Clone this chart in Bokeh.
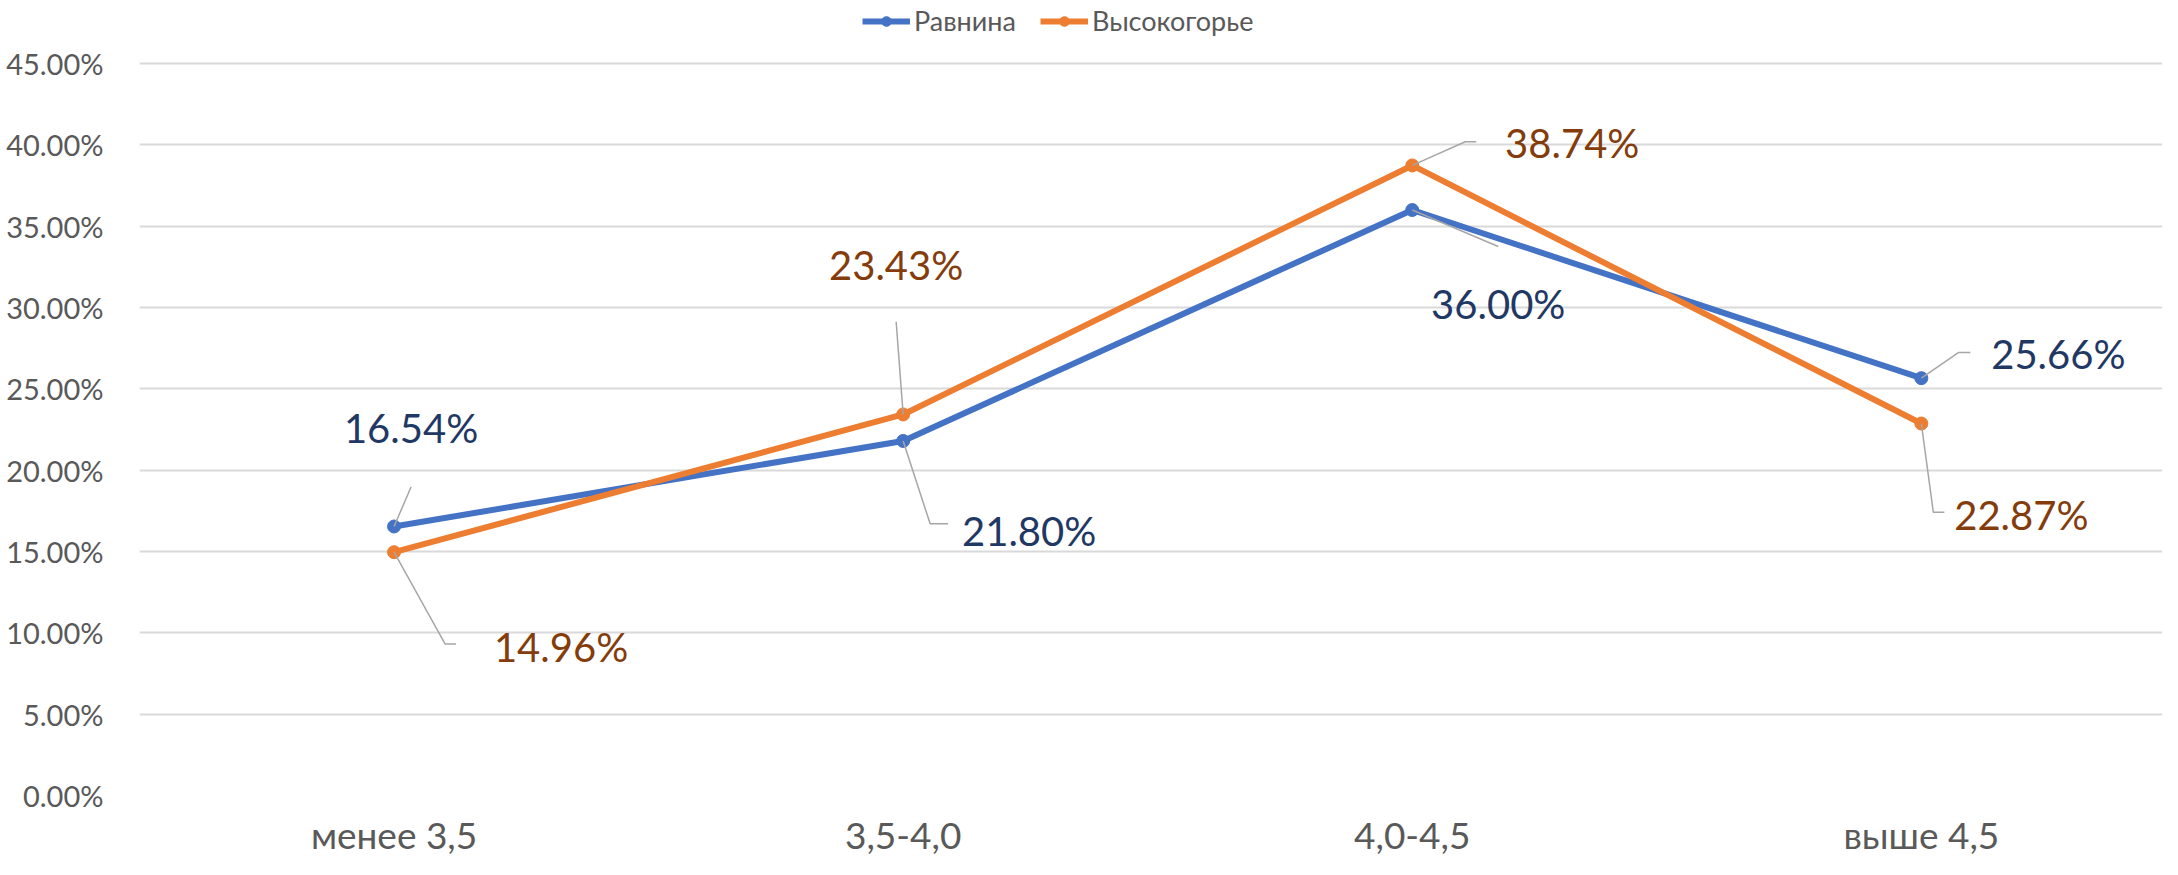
from bokeh.plotting import figure
from bokeh.models import Range1d, NumeralTickFormatter, FixedTicker, Legend, LegendItem, ColumnDataSource
from bokeh.core.properties import value
from bokeh.embed import file_html
from bokeh.resources import INLINE

# ---- data ----
categories = ["менее 3,5", "3,5-4,0", "4,0-4,5", "выше 4,5"]
series_names = ["Равнина", "Высокогорье"]
ravnina = [0.1654, 0.2180, 0.3600, 0.2566]
vysokogorye = [0.1496, 0.2343, 0.3874, 0.2287]
y_ticks = [0.0, 0.05, 0.10, 0.15, 0.20, 0.25, 0.30, 0.35, 0.40, 0.45]

# ---- layout / style ----
W, H = 2162, 859
BL, BR, BT = 139, 0, 0
FRAME_BOTTOM = 806          # px from figure top to the 0% gridline
TOP_GRID = 64               # px from figure top to the 45% gridline
BB = H - FRAME_BOTTOM
CAT_STEP = 509.1            # px between categories
X0 = -0.5
X1 = X0 + (W - BL - BR) / CAT_STEP
PX_X = CAT_STEP
PX_Y = (FRAME_BOTTOM - TOP_GRID) / 0.45
Y0, Y1 = 0.0, 0.45 + TOP_GRID / PX_Y
FONT = "Lato"
BLUE, ORANGE = "#4472C4", "#ED7D31"
BLUE_TXT, ORANGE_TXT = "#1F3864", "#843C0C"
LEADER = "#A6A6A6"

# pixel offsets of data labels (screen coords, y down) and leader lines
label_off = {
    0: [(17, -98), (126, 90), (86, 94), (137, -24)],
    1: [(167, 95), (-7, -149), (160, -22), (100, 91)],
}
leader_off = {
    0: [[(0, 0), (17, -40)], [(0, 0), (27, 84), (45, 84)], [(0, 0), (86, 37)], [(0, 0), (37, -26), (49, -26)]],
    1: [[(0, 0), (51, 93), (62, 93)], [(0, 0), (-7, -94)], [(0, 0), (53, -24), (64, -24)], [(0, 0), (12, 90), (23, 90)]],
}

p = figure(width=W, height=H, output_backend="svg", toolbar_location=None,
           x_range=Range1d(X0, X1), y_range=Range1d(Y0, Y1),
           min_border_left=BL, min_border_right=BR, min_border_top=BT, min_border_bottom=BB)
p.outline_line_color = None
p.background_fill_color = "white"
p.border_fill_color = "white"

xs = list(range(len(categories)))

# axes
p.xaxis.ticker = FixedTicker(ticks=xs)
p.xaxis.major_label_overrides = {i: c for i, c in enumerate(categories)}
p.xaxis.major_label_text_font = FONT
p.xaxis.major_label_text_font_size = "37px"
p.xaxis.major_label_text_color = "#595959"
p.xaxis.major_label_standoff = 10
p.xaxis.axis_line_color = None
p.xaxis.major_tick_line_color = None
p.xaxis.minor_tick_line_color = None
p.xgrid.grid_line_color = None

p.yaxis.ticker = FixedTicker(ticks=y_ticks)
p.yaxis.formatter = NumeralTickFormatter(format="0.00%")
p.yaxis.major_label_text_font = FONT
p.yaxis.major_label_text_font_size = "29px"
p.yaxis.major_label_text_color = "#595959"
p.yaxis.major_label_standoff = 30
p.yaxis.axis_line_color = None
p.yaxis.major_tick_line_color = None
p.yaxis.minor_tick_line_color = None
p.ygrid.ticker = FixedTicker(ticks=y_ticks)
p.ygrid.grid_line_color = "#D9D9D9"
p.ygrid.grid_line_width = 2

items = []
for k, (name, vals, col) in enumerate([(series_names[0], ravnina, BLUE),
                                        (series_names[1], vysokogorye, ORANGE)]):
    lr = p.line(xs, vals, line_color=col, line_width=6)
    sr = p.scatter(xs, vals, size=13, fill_color=col, line_color=col)
    items.append(LegendItem(label=name, renderers=[lr, sr]))

for k, (vals, tcol) in enumerate([(ravnina, BLUE_TXT), (vysokogorye, ORANGE_TXT)]):
    lx, ly = [], []
    for i, v in enumerate(vals):
        lx.append([xs[i] + dx / PX_X for dx, dy in leader_off[k][i]])
        ly.append([v - dy / PX_Y for dx, dy in leader_off[k][i]])
    p.multi_line(lx, ly, line_color=LEADER, line_width=1.5)
    src = ColumnDataSource(dict(
        x=xs, y=vals, t=[f"{v * 100:.2f}%" for v in vals],
        xo=[o[0] for o in label_off[k]], yo=[o[1] for o in label_off[k]]))
    p.text(x="x", y="y", text="t", x_offset="xo", y_offset="yo", source=src,
           text_font=value(FONT), text_font_size="40px", text_color=tcol,
           text_align="center", text_baseline="middle")

legend = Legend(items=items, orientation="horizontal", location=(723, 758))
legend.label_text_font = FONT
legend.label_text_font_size = "27px"
legend.label_text_color = "#595959"
legend.glyph_width = 48
legend.glyph_height = 24
legend.label_standoff = 4
legend.spacing = 24
legend.padding = 0
legend.margin = 0
legend.border_line_color = None
legend.background_fill_alpha = 0
p.add_layout(legend, "center")

open("out.html", "w").write(file_html(p, INLINE))
